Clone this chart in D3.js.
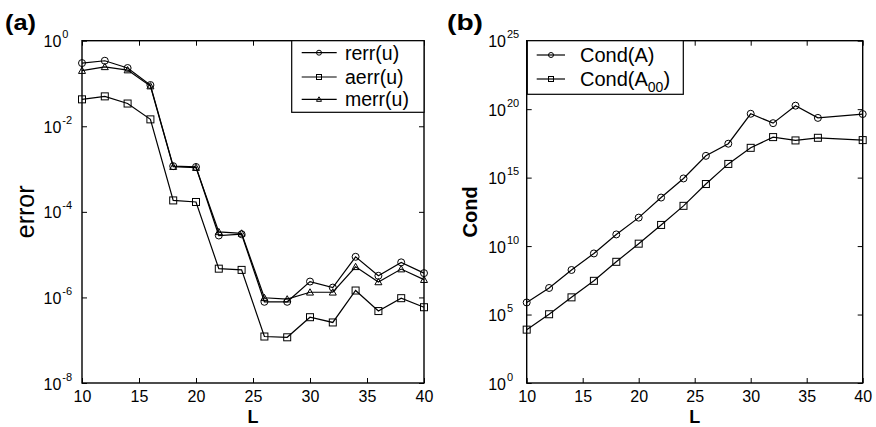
<!DOCTYPE html>
<html><head><meta charset="utf-8">
<script src="https://cdn.jsdelivr.net/npm/d3@7"></script>
<style>body{margin:0;background:#fff}svg{display:block}text{font-family:"Liberation Sans",Arial,Helvetica,sans-serif;fill:#000}</style>
</head><body>
<svg id="c" width="876" height="427"></svg>
<script>
// ---- data (a) ----
const L_a = [10,12,14,16,18,20,22,24,26,28,30,32,34,36,38,40];
const rerr = [0.30,0.34,0.23,0.092,1.17e-3,1.12e-3,2.8e-5,3.0e-5,7.9e-7,7.9e-7,2.35e-6,1.7e-6,8.9e-6,3.2e-6,6.6e-6,3.7e-6];
const aerr = [0.0426,0.050,0.034,0.0145,1.85e-4,1.7e-4,4.7e-6,4.4e-6,1.22e-7,1.17e-7,3.45e-7,2.6e-7,1.45e-6,4.8e-7,9.6e-7,5.9e-7];
const merr = [0.20,0.245,0.206,0.087,1.14e-3,1.08e-3,3.4e-5,3.15e-5,9.8e-7,9.1e-7,1.32e-6,1.32e-6,5.2e-6,2.3e-6,4.6e-6,2.6e-6];
const yTicksA = [0,-2,-4,-6,-8];
// ---- data (b) ----
const L_b = [10,12,14,16,18,20,22,24,26,28,30,32,34,36,40];
const condA = [7.6e5,8.7e6,1.8e8,2.9e9,7.1e10,1.2e12,3.5e13,8.7e14,3.9e16,3.0e17,4.6e19,9.5e18,1.8e20,2.3e19,4.4e19];
const condA00 = [7.9e3,1.05e5,1.8e6,2.9e7,7.1e8,1.5e10,3.5e11,8.7e12,3.4e14,1.0e16,1.5e17,9.1e17,5.2e17,8.1e17,5.5e17];
const yTicksB = [25,20,15,10,5,0];
const xTicks = [10,15,20,25,30,35,40];

const svg = d3.select("#c");
svg.append("rect").attr("width",876).attr("height",427).attr("fill","#fff");

function marker(g, type, x, y, s) {
  if (type === "circle") g.append("circle").attr("cx",x).attr("cy",y).attr("r",s/2).attr("fill","none").attr("stroke","#000").attr("stroke-width",1);
  else if (type === "square") g.append("rect").attr("x",x-s/2).attr("y",y-s/2).attr("width",s).attr("height",s).attr("fill","none").attr("stroke","#000").attr("stroke-width",1);
  else g.append("path").attr("d",`M${x},${y-s/2}L${x+s/2},${y+s/2*0.8}L${x-s/2},${y+s/2*0.8}Z`).attr("fill","none").attr("stroke","#000").attr("stroke-width",1);
}

function panel(opt) {
  const {x0,x1,y0,y1,ydom,xs,series,yTicks,ylab,ylabBold,ylabSize,ylabX,title,titleX,titleLen} = opt;
  const x = d3.scaleLinear().domain([10,40]).range([x0,x1]);
  const y = d3.scaleLog().domain(ydom).range([y1,y0]);
  const g = svg.append("g");
  const yv = yTicks.map(e => Math.pow(10,e));
  g.append("g").attr("transform",`translate(0,${y1})`).call(d3.axisBottom(x).tickValues(xTicks).tickSize(-5).tickPadding(8).tickFormat(d3.format("d")))
    .call(a => { a.select(".domain").remove(); a.selectAll("text").attr("font-size",16).attr("font-family","Liberation Sans, Arial, sans-serif"); });
  g.append("g").attr("transform",`translate(0,${y0})`).call(d3.axisTop(x).tickValues(xTicks).tickSize(-5).tickFormat(""))
    .call(a => a.select(".domain").remove());
  const ya = g.append("g").attr("transform",`translate(${x0},0)`).call(d3.axisLeft(y).tickValues(yv).tickSize(-5).tickFormat(""));
  ya.select(".domain").remove();
  ya.selectAll(".tick").each(function(d){
    const t = d3.select(this).append("text").attr("x",-38.5).attr("y",6).attr("text-anchor","start").attr("font-size",16);
    t.append("tspan").text("10");
    t.append("tspan").attr("font-size",11).attr("dy",-9).attr("dx",1).text(String(Math.round(Math.log10(d))));
  });
  g.append("g").attr("transform",`translate(${x1},0)`).call(d3.axisRight(y).tickValues(yv).tickSize(-5).tickFormat(""))
    .call(a => a.select(".domain").remove());
  g.append("rect").attr("x",x0).attr("y",y0).attr("width",x1-x0).attr("height",y1-y0).attr("fill","none").attr("stroke","#000").attr("stroke-width",1.4);
  const line = d3.line().x(d=>x(d[0])).y(d=>y(d[1]));
  series.forEach(s => {
    const pts = xs.map((v,i)=>[v,s.values[i]]);
    g.append("path").attr("d",line(pts)).attr("fill","none").attr("stroke","#000").attr("stroke-width",1.2);
    pts.forEach(p => marker(g, s.marker, x(p[0]), y(p[1]), 7));
  });
  g.append("text").attr("x",(x0+x1)/2).attr("y",423).attr("text-anchor","middle").attr("font-size",18).attr("font-weight","bold").text("L");
  g.append("text").attr("transform",`translate(${ylabX},${(y0+y1)/2}) rotate(-90)`).attr("text-anchor","middle")
    .attr("font-size",ylabSize).attr("font-weight",ylabBold?"bold":"normal").text(ylab);
  g.append("text").attr("x",titleX).attr("y",30).attr("font-size",22).attr("font-weight","bold").attr("textLength",titleLen).attr("lengthAdjust","spacingAndGlyphs").text(title);
  return {g,x,y};
}

const pa = panel({x0:82,x1:424,y0:40.7,y1:383,ydom:[1e-8,1],xs:L_a,
  series:[{values:rerr,marker:"circle"},{values:aerr,marker:"square"},{values:merr,marker:"triangle"}],
  yTicks:yTicksA,ylab:"error",ylabBold:false,ylabSize:25,ylabX:33.5,title:"(a)",titleX:5,titleLen:31});
{
  const lg = svg.append("g");
  lg.append("rect").attr("x",291.7).attr("y",40.7).attr("width",424-291.7).attr("height",112.3-40.7).attr("fill","#fff").attr("stroke","#000").attr("stroke-width",1.2);
  const items = [["rerr(u)","circle",52.7],["aerr(u)","square",77],["merr(u)","triangle",99.3]];
  items.forEach(([t,m,yy]) => {
    lg.append("line").attr("x1",301.7).attr("x2",336.7).attr("y1",yy).attr("y2",yy).attr("stroke","#000").attr("stroke-width",1.2);
    marker(lg,m,319,yy,5);
    lg.append("text").attr("x",345).attr("y",yy+7).attr("font-size",19.5).text(t);
  });
}

const pb = panel({x0:526.7,x1:862.7,y0:40.7,y1:383,ydom:[1,1e25],xs:L_b,
  series:[{values:condA,marker:"circle"},{values:condA00,marker:"square"}],
  yTicks:yTicksB,ylab:"Cond",ylabBold:true,ylabSize:20,ylabX:477,title:"(b)",titleX:447,titleLen:36});
{
  const lg = svg.append("g");
  lg.append("rect").attr("x",527.3).attr("y",40.7).attr("width",683.3-527.3).attr("height",94.3-40.7).attr("fill","#fff").attr("stroke","#000").attr("stroke-width",1.2);
  const items = [["Cond(A)","circle",55],["Cond(A","square",79]];
  items.forEach(([t,m,yy],i) => {
    lg.append("line").attr("x1",536.7).attr("x2",565).attr("y1",yy).attr("y2",yy).attr("stroke","#000").attr("stroke-width",1.2);
    marker(lg,m,551,yy,5);
    const tx = lg.append("text").attr("x",580).attr("y",yy+7).attr("font-size",20);
    tx.append("tspan").text(t);
    if (i===1) {
      tx.append("tspan").attr("font-size",14).attr("dy",6).text("00");
      tx.append("tspan").attr("dy",-6).text(")");
    }
  });
}
</script>
</body></html>
